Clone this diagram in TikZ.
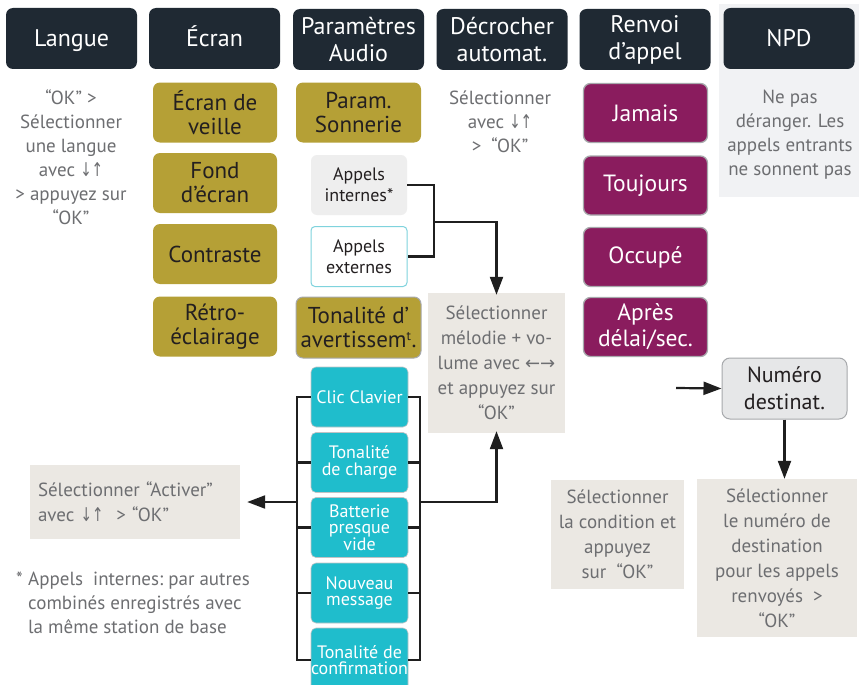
\documentclass[tikz,border=0pt]{standalone}
\usepackage{fontspec}
\setmainfont{PT Sans}
\newfontfamily\arrowfont{DejaVu Sans}
\usetikzlibrary{arrows.meta}
\definecolor{hdrc}{HTML}{1F2933}
\definecolor{goldc}{HTML}{B5A036}
\definecolor{purpc}{HTML}{8A1C5E}
\definecolor{cyanc}{HTML}{1FBDCC}
\definecolor{beige}{HTML}{EBE8E3}
\definecolor{npdbg}{HTML}{F1F2F4}
\definecolor{greyt}{HTML}{6D6E71}
\definecolor{darkt}{HTML}{231F20}
\definecolor{bordc}{HTML}{A7A9AC}
\definecolor{intc}{HTML}{EEEEEE}
\definecolor{extc}{HTML}{7FD3DD}
\definecolor{numc}{HTML}{E6E7E8}
\newcommand{\arw}[1]{{\arrowfont\fontsize{19}{19}\selectfont\scalebox{0.72}[1]{#1}}}
\newcommand{\harw}[1]{{\arrowfont\fontsize{18}{18}\selectfont #1}}
\begin{document}
\begin{tikzpicture}[x=1pt,y=-1pt,
  box/.style={rounded corners=7pt, inner sep=0pt, align=center},
  hdr/.style={box, fill=hdrc, text=white, font=\fontsize{24}{27}\selectfont, minimum width=131pt, minimum height=61pt},
  oneline/.style={text height=20pt, text depth=3pt},
  gold/.style={box, fill=goldc, text=darkt, font=\fontsize{23}{24}\selectfont, minimum width=124pt, minimum height=60pt},
  purp/.style={box, fill=purpc, draw=bordc, line width=1.3pt, text=white, font=\fontsize{23.5}{26}\selectfont, minimum width=124pt, minimum height=59pt},
  cyanbox/.style={box, rounded corners=5pt, fill=cyanc, draw=bordc!70, line width=0.6pt, text=white, font=\fontsize{18}{16.5}\selectfont, minimum width=97pt, minimum height=60pt},
  call/.style={box, rounded corners=6pt, text=darkt, font=\fontsize{18}{21}\selectfont, minimum width=96pt, minimum height=60pt},
  note/.style={fill=beige, text=greyt, font=\fontsize{19}{25}\selectfont, inner sep=0pt, align=center},
  plain/.style={text=greyt, font=\fontsize{19}{24}\selectfont, inner sep=0pt, align=center},
  wire/.style={line width=2.2pt, draw=black!88},
  arr/.style={wire, -{Stealth[length=18pt,width=13pt,inset=0pt]}}
]
\clip (0,0) rectangle (862,685);
\fill[white] (0,0) rectangle (862,685);
\fill[npdbg] (719,4) rectangle (859,197);

% headers
\node[hdr, oneline] (hLangue) at (71.5,38.5) {Langue};
\node[hdr, oneline] (hEcran) at (214.5,38.5) {Écran};
\node[hdr] (hAudio) at (358.5,39.5) {Paramètres\\Audio};
\node[hdr] (hDecr) at (502,39.5) {Décrocher\\automat.};
\node[hdr] (hRenv) at (645,39.5) {Renvoi\\d’appel};
\node[hdr, oneline] (hNPD) at (789,38.5) {NPD};

% Langue column text
\node[plain] (tLangue) at (71,157) {“OK” >\\Sélectionner\\une langue\\avec \arw{↓↑}\\> appuyez sur\\“OK”};

% Ecran column
\node[gold] (veille) at (215,112.5) {Écran de\\veille};
\node[gold] (fond) at (215,183) {Fond\\d’écran};
\node[gold] (contr) at (215,254) {Contraste};
\node[gold] (retro) at (215,326.5) {Rétro-\\éclairage};

% Audio column
\node[gold, minimum width=125pt] (sonn) at (358.5,112.5) {Param.\\Sonnerie};
\node[call, fill=intc] (internes) at (359,185) {Appels\\internes*};
\node[call, fill=white, draw=extc, line width=1pt, rounded corners=4pt] (externes) at (359,256.5) {Appels\\externes};
\node[gold, minimum width=125pt, minimum height=61pt, draw=bordc, line width=1pt] (avert) at (358.5,327.5) {Tonalité d’\\avertissem\raisebox{7pt}{\fontsize{13}{13}\selectfont t}\kern0.5pt.};

\node[cyanbox] (clic) at (359.5,397) {Clic Clavier};
\node[cyanbox] (charge) at (359.5,462.5) {Tonalité\\de charge};
\node[cyanbox] (batt) at (359.5,527.5) {Batterie\\presque\\vide};
\node[cyanbox] (nouv) at (359.5,593) {Nouveau\\message};
\node[cyanbox, minimum height=64pt] (confirm) at (359.5,660) {Tonalité de\\confirmation};

% Decrocher column
\node[plain] (tDecr) at (500,122) {Sélectionner\\avec \arw{↓↑}\\>\ \ “OK”};
\node[note, minimum width=137pt, minimum height=140pt] (melodie) at (496.5,363) {Sélectionner\\mélodie + vo-\\lume avec \harw{←→}\\et appuyez sur\\“OK”};

% Renvoi column
\node[purp] (jamais) at (645.5,113) {Jamais};
\node[purp] (touj) at (645.5,185.5) {Toujours};
\node[purp] (occ) at (645.5,257) {Occupé};
\node[purp] (apres) at (645.5,327) {Après\\délai/sec.};

% NPD text
\node[plain] (tNPD) at (790,135) {Ne pas\\déranger. Les\\appels entrants\\ne sonnent pas};

\node[box, rounded corners=8pt, fill=numc, draw=bordc, line width=1pt, text=darkt, font=\fontsize{22}{27}\selectfont, minimum width=125pt, minimum height=61pt] (numero) at (784.5,388.5) {Numéro\\destinat.};

\node[note, minimum width=133pt, minimum height=109pt] (cond) at (617.5,534.5) {Sélectionner\\la condition et\\appuyez\\sur\ \ “OK”};
\node[note, minimum width=160pt, minimum height=158pt] (dest) at (777,558) {Sélectionner\\le numéro de\\destination\\pour les appels\\renvoyés\ \ >\\“OK”};

% Activer box & footnote
\node[note, align=left, minimum width=210pt, minimum height=74pt, text width=194pt] (activer) at (135,502) {Sélectionner “Activer”\\avec \arw{↓↑}\ \ > “OK”};
\node[plain, align=left, anchor=north west] (foot) at (16,572) {\makebox[12pt][l]{*}Appels\ \ internes:\ par autres\\\hspace*{12pt}combinés enregistrés avec\\\hspace*{12pt}la même station de base};

% connectors: appels -> melodie
\coordinate (J) at (434,222);
\draw[wire] (internes.east) -| (J) |- (externes.east);
\draw[arr] (J) -| ([yshift=-2]melodie.north);

% ladder
\coordinate (L) at (297,0);
\coordinate (R) at (420,0);
\draw[wire] (clic.west) -- (clic.west -| L) -- (confirm.west -| L) -- (confirm.west);
\draw[wire] (clic.east) -- (clic.east -| R) -- (confirm.east -| R) -- (confirm.east);
\foreach \n in {charge,batt,nouv}{
  \draw[wire] (\n.west) -- (\n.west -| L);
  \draw[wire] (\n.east) -- (\n.east -| R);
}
\draw[arr] (L |- activer.east) -- ([xshift=7]activer.east);
\draw[arr] (R |- activer.east) -| ([yshift=2]melodie.south);

% numero arrows
\coordinate (nin) at (676,388);
\draw[arr] (nin) -- (numero.west);
\draw[arr] (numero.south) -- (numero.south |- dest.north);
\end{tikzpicture}
\end{document}
